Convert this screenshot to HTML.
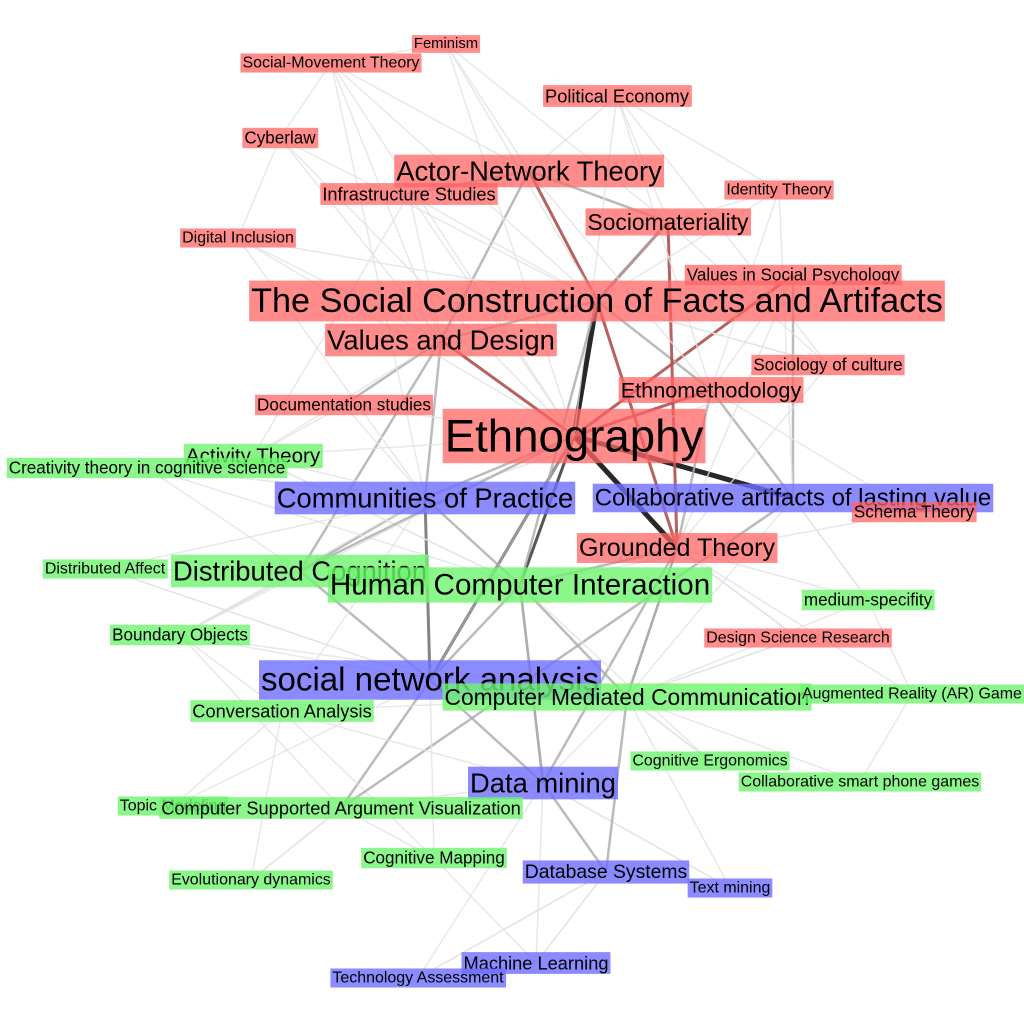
<!DOCTYPE html>
<html><head><meta charset="utf-8"><style>
html,body{margin:0;padding:0;background:#fff;width:1024px;height:1024px;overflow:hidden}
svg text{font-family:"Liberation Sans",Arial,sans-serif;fill:#000}
</style></head><body>
<svg id="net" width="1024" height="1024" viewBox="0 0 1024 1024" xmlns="http://www.w3.org/2000/svg">
<g id="edges"></g>
<g id="nodes"></g>
</svg>
<script>
const nodeLabels = ["Feminism","Social-Movement Theory","Political Economy","Cyberlaw","Actor-Network Theory","Infrastructure Studies","Identity Theory","Sociomateriality","Digital Inclusion","Values in Social Psychology","The Social Construction of Facts and Artifacts","Values and Design","Sociology of culture","Ethnomethodology","Documentation studies","Ethnography","Activity Theory","Creativity theory in cognitive science","Communities of Practice","Collaborative artifacts of lasting value","Schema Theory","Grounded Theory","Distributed Affect","Distributed Cognition","Human Computer Interaction","medium-specifity","Boundary Objects","Design Science Research","social network analysis","Computer Mediated Communication","Augmented Reality (AR) Game","Conversation Analysis","Cognitive Ergonomics","Collaborative smart phone games","Data mining","Topic Modeling","Computer Supported Argument Visualization","Cognitive Mapping","Database Systems","Evolutionary dynamics","Text mining","Machine Learning","Technology Assessment"];
const nodeX = [446,331,617,280,529,409,779,668,238,793,597,441,828,711,344,574,253,147,425,793,914,677,105,300,520,868,180,798,430,627,912,282,710,860,543,173,341,434,606,251,730,536,418];
const nodeY = [44,63,96,138,171,194,190,222,238,275,301,340,365,390,405,436,456,468,498,498,512,548,569,571,585,600,635,638,680,697,694,711,761,782,783,806,808,858,872,880,888,963,978];
const nodeSize = [13,14,16,15,24,16,14,20,14,15,30,24,15,19,15,40,18,15,24,21,15,22,14,24,26,15,15,14,29,20,14,16,14,14,24,14,16,15,17,14,14,16,14];
const nodeGroup = ["r","r","r","r","r","r","r","r","r","r","r","r","r","r","r","r","g","g","b","b","r","r","g","g","g","g","g","r","b","g","g","g","g","g","b","g","g","g","b","g","b","b","b"];
const edgeFrom = [15,15,15,15,15,15,15,15,10,10,10,10,10,4,4,4,7,7,2,2,2,0,0,1,1,3,8,5,5,11,11,11,13,13,12,9,6,6,18,18,18,18,24,24,24,24,28,28,28,28,29,29,34,34,34,38,38,41,23,23,26,26,31,36,36,37,21,21,19,19,14,16,17,22,25,27,30,32,33,35,39,40,42,15,15,10,4,7,24,28,20,13,5,3,11,18,29,21,2,1,
 0,0,1,1,3,8,8,14,14,16,17,17,22,22,26,26,31,35,35,39,39,42,42,40,40,33,32,32,30,30,25,25,27,27,20,20,12,12,6,6,9,2,2,0,1,3,5,8,36,37,41,31,26,23,24,29,28,34,38];
const edgeTo   = [10,21,19,28,13,9,24,11,4,7,11,13,21,5,7,11,10,21,4,7,12,1,4,4,10,10,10,10,11,14,18,23,19,21,10,19,7,13,23,28,24,26,28,29,34,21,34,31,36,23,34,32,38,41,40,41,42,42,26,22,31,36,37,37,19,41,29,34,29,25,16,18,23,28,29,21,29,29,30,36,36,34,41,18,16,12,13,12,16,26,19,9,16,8,16,31,27,27,6,3,
 10,15,15,18,15,15,18,18,15,24,18,24,28,18,23,15,34,31,28,31,36,38,34,29,38,29,29,24,25,21,19,21,29,21,13,24,21,18,19,10,21,15,13,7,11,11,15,11,34,28,38,29,29,15,10,21,15,24,29];
const edgeWeight = [6,5,5,4,3,3,4,3,3,3,2,2,3,2,2,2,2,3,1,1,1,1,1,1,1,1,1,1,1,2,2,2,2,2,1,2,1,1,2,3,2,1,2,2,2,2,2,1,2,2,1,1,2,1,1,1,1,1,1,1,1,1,1,1,2,1,2,2,1,1,1,1,1,1,1,1,1,1,1,1,1,1,1,2,1,1,1,1,1,1,1,1,1,1,1,1,1,1,1,1,
 1,1,1,1,1,1,1,1,1,1,1,1,1,1,1,1,1,1,1,1,1,1,1,1,1,1,1,1,1,1,1,1,1,1,1,1,1,1,1,1,1,1,1,1,1,1,1,1,1,1,1,1,1,2,2,2,2,2,2];
const fills = {r:"rgba(255,100,100,0.75)", g:"rgba(110,245,110,0.8)", b:"rgba(110,110,255,0.8)"};
const NS = "http://www.w3.org/2000/svg";
const FS = 1.14;
const eg = document.getElementById('edges'), ng = document.getElementById('nodes');
function slug(s){return s.toLowerCase().replace(/[^a-z0-9]+/g,'-').replace(/^-|-$/g,'');}
for (let i=0;i<edgeFrom.length;i++){
  const a=edgeFrom[i], b=edgeTo[i], w=edgeWeight[i];
  const l=document.createElementNS(NS,'line');
  l.setAttribute('x1',nodeX[a]);l.setAttribute('y1',nodeY[a]);
  l.setAttribute('x2',nodeX[b]);l.setAttribute('y2',nodeY[b]);
  const red = (nodeGroup[a]==='r' && nodeGroup[b]==='r' && w>=3);
  const col = w>=5 ? '#111' : w>=4 ? '#444' : w>=3 ? (red?'#b05050':'#777') : w>=2 ? '#aaa' : '#e2e2e2';
  l.setAttribute('stroke',col);
  l.setAttribute('stroke-width', w>=5?5:w>=3?3:w>=2?2.5:1.5);
  l.setAttribute('stroke-opacity', w>=3?0.9:0.8);
  
  
  eg.appendChild(l);
}
for (let i=0;i<nodeLabels.length;i++){
  const g=document.createElementNS(NS,'g');
  
  
  const r=document.createElementNS(NS,'rect');
  const t=document.createElementNS(NS,'text');
  const fs=nodeSize[i]*FS;
  t.textContent=nodeLabels[i];
  t.setAttribute('x',nodeX[i]);t.setAttribute('y',nodeY[i]);
  t.setAttribute('font-size',fs);
  t.setAttribute('text-anchor','middle');
  t.setAttribute('dominant-baseline','central');
  g.appendChild(r);g.appendChild(t);ng.appendChild(g);
  const bb=t.getBBox();
  r.setAttribute('x',bb.x-2);r.setAttribute('y',nodeY[i]-nodeSize[i]*0.68);
  r.setAttribute('width',bb.width+4);r.setAttribute('height',nodeSize[i]*1.36);
  r.setAttribute('fill',fills[nodeGroup[i]]);
}
</script>
</body></html>
